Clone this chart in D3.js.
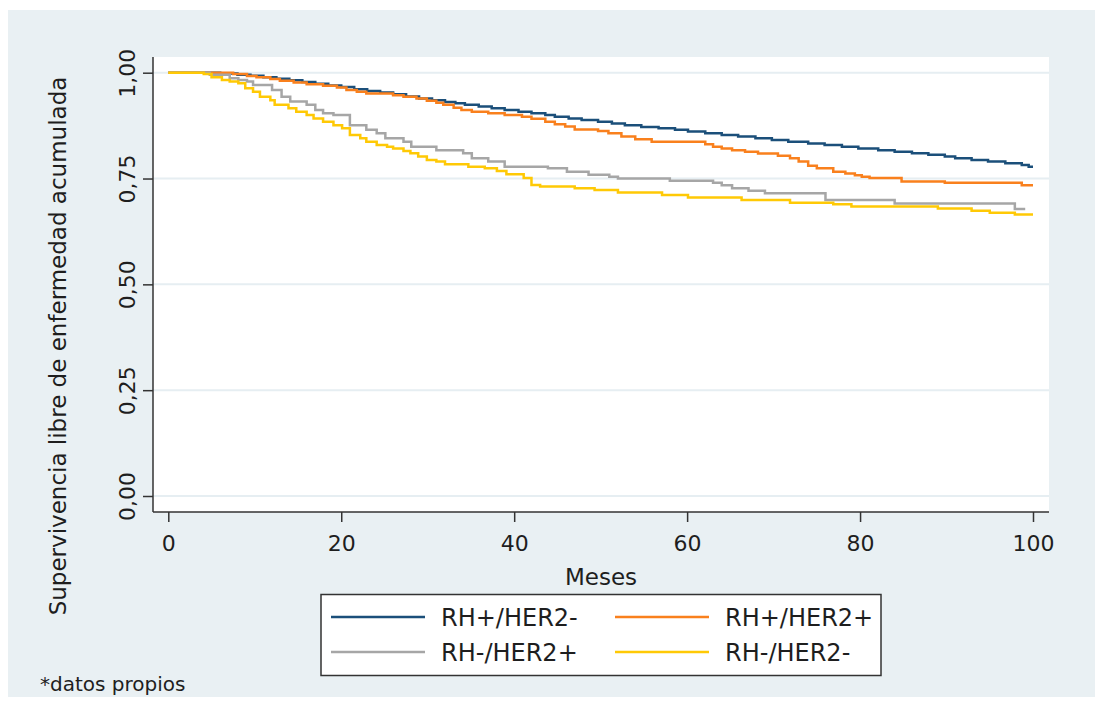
<!DOCTYPE html>
<html>
<head>
<meta charset="utf-8">
<script src="https://cdn.jsdelivr.net/npm/d3@7"></script>
<style>
  body { margin: 0; background: #fff; }
  svg { display: block; }
</style>
</head>
<body>
<div id="chart"></div>
<script>
// Kaplan-Meier curves, values
const xTicks = [0, 20, 40, 60, 80, 100];
const yTicks = [0, 0.25, 0.5, 0.75, 1];

const seriesNames = ["RH+/HER2-", "RH+/HER2+", "RH-/HER2+", "RH-/HER2-"];
const seriesColors = ["#1b4f7a", "#f9801d", "#a6a6a6", "#ffc905"];

const blueTimes = [0, 6.0, 8.0, 9.5, 11.0, 12.5, 14.0, 15.5, 17.0, 18.5, 20.0, 21.5, 23.0, 24.5, 26.0, 27.5, 29.0, 30.5, 32.0, 33.2, 34.3, 35.9, 37.4, 38.9, 40.5, 42.0, 43.6, 44.7, 46.3, 47.8, 49.7, 51.3, 52.8, 54.7, 56.7, 58.6, 60.1, 62.1, 64.0, 65.9, 67.9, 69.8, 71.7, 74.0, 75.9, 77.9, 79.8, 82.1, 84.0, 86.0, 87.9, 89.8, 91.0, 92.9, 94.8, 96.8, 98.7, 99.5, 100];
const blueSurv = [1, 0.998, 0.995, 0.993, 0.989, 0.986, 0.982, 0.978, 0.974, 0.970, 0.966, 0.961, 0.957, 0.953, 0.949, 0.944, 0.939, 0.935, 0.931, 0.928, 0.924, 0.920, 0.916, 0.912, 0.908, 0.904, 0.900, 0.896, 0.892, 0.888, 0.884, 0.880, 0.876, 0.872, 0.869, 0.865, 0.861, 0.857, 0.853, 0.849, 0.845, 0.841, 0.837, 0.833, 0.829, 0.825, 0.821, 0.817, 0.813, 0.810, 0.806, 0.802, 0.798, 0.794, 0.790, 0.786, 0.782, 0.778, 0.778];

const orangeTimes = [0, 7.5, 9.1, 10.2, 11.8, 12.9, 14.5, 16.0, 17.9, 19.5, 20.6, 21.8, 22.9, 26.0, 27.2, 28.7, 29.9, 31.0, 31.8, 33.0, 33.9, 35.1, 37.0, 38.9, 40.9, 42.0, 43.6, 44.7, 45.9, 47.0, 49.7, 50.9, 52.4, 54.0, 55.9, 62.1, 63.0, 64.0, 65.2, 66.7, 68.2, 70.5, 71.9, 72.9, 74.0, 75.0, 76.9, 78.3, 79.4, 80.2, 81.1, 84.8, 89.8, 98.7, 100];
const orangeSurv = [1, 0.997, 0.992, 0.989, 0.985, 0.981, 0.977, 0.973, 0.969, 0.965, 0.959, 0.955, 0.951, 0.947, 0.943, 0.939, 0.934, 0.929, 0.924, 0.917, 0.912, 0.908, 0.904, 0.900, 0.896, 0.891, 0.884, 0.878, 0.873, 0.866, 0.862, 0.857, 0.849, 0.843, 0.837, 0.831, 0.825, 0.821, 0.817, 0.813, 0.809, 0.804, 0.798, 0.790, 0.780, 0.774, 0.766, 0.762, 0.758, 0.754, 0.751, 0.743, 0.740, 0.734, 0.734];

const grayTimes = [0, 4.8, 7.1, 8.1, 9.1, 9.8, 12.0, 13.1, 14.1, 16.0, 17.0, 17.9, 19.1, 21.0, 22.9, 24.1, 25.1, 27.2, 28.1, 31.0, 34.1, 35.1, 37.0, 38.9, 43.9, 46.1, 48.6, 51.0, 52.0, 58.0, 63.0, 64.0, 65.2, 67.1, 69.0, 76.0, 84.0, 97.9, 99.1];
const graySurv = [1, 0.995, 0.987, 0.983, 0.979, 0.971, 0.959, 0.943, 0.932, 0.924, 0.912, 0.904, 0.900, 0.876, 0.865, 0.857, 0.845, 0.837, 0.825, 0.817, 0.810, 0.798, 0.790, 0.778, 0.774, 0.766, 0.759, 0.754, 0.750, 0.745, 0.740, 0.734, 0.727, 0.721, 0.715, 0.699, 0.691, 0.678, 0.678];

const yellowTimes = [0, 4.1, 5.0, 6.2, 7.1, 8.1, 8.9, 9.8, 10.6, 11.8, 12.3, 13.9, 14.8, 16.0, 16.8, 17.9, 19.1, 20.1, 21.0, 22.2, 22.9, 24.1, 25.3, 26.0, 27.2, 28.0, 28.9, 29.9, 31.0, 32.0, 34.7, 36.6, 38.0, 39.1, 41.1, 42.0, 43.0, 47.0, 49.3, 52.0, 57.1, 60.1, 66.3, 71.9, 76.9, 79.0, 89.0, 92.9, 95.0, 97.9, 100];
const yellowSurv = [1, 0.997, 0.989, 0.983, 0.979, 0.975, 0.963, 0.955, 0.943, 0.935, 0.924, 0.916, 0.908, 0.900, 0.892, 0.884, 0.876, 0.869, 0.853, 0.845, 0.837, 0.829, 0.825, 0.821, 0.815, 0.810, 0.802, 0.794, 0.790, 0.784, 0.778, 0.774, 0.768, 0.760, 0.751, 0.735, 0.731, 0.727, 0.723, 0.717, 0.711, 0.705, 0.699, 0.693, 0.689, 0.684, 0.679, 0.674, 0.669, 0.665, 0.665];

const width = 1103, height = 707;
const plot = { left: 153, top: 57, right: 1049, bottom: 512 };
const font = "'DejaVu Sans', sans-serif";
const textColor = "#1e1e1e";
const axisColor = "#333";

const series = [
  { name: seriesNames[0], color: seriesColors[0], times: blueTimes, surv: blueSurv },
  { name: seriesNames[1], color: seriesColors[1], times: orangeTimes, surv: orangeSurv },
  { name: seriesNames[2], color: seriesColors[2], times: grayTimes, surv: graySurv },
  { name: seriesNames[3], color: seriesColors[3], times: yellowTimes, surv: yellowSurv }
];

const svg = d3.select("#chart").append("svg")
  .attr("width", width)
  .attr("height", height)
  .style("font-family", font);

// graph region background
svg.append("rect")
  .attr("x", 8).attr("y", 10)
  .attr("width", 1087).attr("height", 687)
  .attr("fill", "#e9f0f3");

svg.append("rect")
  .attr("x", plot.left).attr("y", plot.top)
  .attr("width", plot.right - plot.left).attr("height", plot.bottom - plot.top)
  .attr("fill", "#fff");

const x = d3.scaleLinear().domain([0, 100]).range([168.3, 1033]);
const y = d3.scaleLinear().domain([0, 1]).range([496, 72.7]);

// gridlines
svg.append("g").selectAll("line")
  .data(yTicks)
  .join("line")
    .attr("x1", plot.left).attr("x2", plot.right)
    .attr("y1", d => y(d)).attr("y2", d => y(d))
    .attr("stroke", "#e6eef2")
    .attr("stroke-width", 2);

// curves (step after)
const line = d3.line()
  .x(d => x(d[0]))
  .y(d => y(d[1]))
  .curve(d3.curveStepAfter);

svg.append("g").selectAll("path")
  .data(series)
  .join("path")
    .attr("d", s => line(s.times.map((t, i) => [t, s.surv[i]])))
    .attr("fill", "none")
    .attr("stroke", s => s.color)
    .attr("stroke-width", 2.5);

// axis lines
svg.append("line")
  .attr("x1", plot.left).attr("x2", plot.left)
  .attr("y1", plot.top).attr("y2", plot.bottom)
  .attr("stroke", axisColor).attr("stroke-width", 1.5);
svg.append("line")
  .attr("x1", plot.left).attr("x2", plot.right)
  .attr("y1", plot.bottom).attr("y2", plot.bottom)
  .attr("stroke", axisColor).attr("stroke-width", 1.5);

// y axis
const yAxis = d3.axisLeft(y)
  .tickValues(yTicks)
  .tickSize(10)
  .tickFormat(d => d3.format(".2f")(d).replace(".", ","));

const yg = svg.append("g")
  .attr("transform", `translate(${plot.left},0)`)
  .call(yAxis);
yg.select(".domain").remove();
yg.selectAll(".tick line").attr("stroke", axisColor).attr("stroke-width", 1.5);
yg.selectAll(".tick text")
  .attr("x", null).attr("dy", null)
  .attr("text-anchor", "middle")
  .attr("transform", "translate(-18,0) rotate(-90)")
  .attr("fill", textColor)
  .style("font-family", font)
  .style("font-size", "22px");

// x axis
const xAxis = d3.axisBottom(x).tickValues(xTicks).tickSize(10);
const xg = svg.append("g")
  .attr("transform", `translate(0,${plot.bottom})`)
  .call(xAxis);
xg.select(".domain").remove();
xg.selectAll(".tick line").attr("stroke", axisColor).attr("stroke-width", 1.5);
xg.selectAll(".tick text")
  .attr("y", 23)
  .attr("fill", textColor)
  .style("font-family", font)
  .style("font-size", "22px");

// axis titles
svg.append("text")
  .attr("x", (plot.left + plot.right) / 2)
  .attr("y", 585)
  .attr("text-anchor", "middle")
  .attr("fill", textColor)
  .style("font-size", "23px")
  .text("Meses");

svg.append("text")
  .attr("transform", "translate(66,346) rotate(-90)")
  .attr("text-anchor", "middle")
  .attr("fill", textColor)
  .style("font-size", "23px")
  .text("Supervivencia libre de enfermedad acumulada");

// legend
svg.append("rect")
  .attr("x", 321).attr("y", 594.5)
  .attr("width", 560).attr("height", 81)
  .attr("fill", "#fff")
  .attr("stroke", axisColor)
  .attr("stroke-width", 1.5);

const colX = [331, 615];
const rowY = [617, 652];
const legendItems = svg.append("g").selectAll("g")
  .data(series)
  .join("g")
    .attr("transform", (d, i) => `translate(${colX[i % 2]},${rowY[Math.floor(i / 2)]})`);

legendItems.append("line")
  .attr("x1", 0).attr("x2", 94)
  .attr("stroke", d => d.color)
  .attr("stroke-width", 2.5);

legendItems.append("text")
  .attr("x", 110)
  .attr("y", 8.5)
  .attr("fill", textColor)
  .style("font-size", "24px")
  .text(d => d.name);

// note
svg.append("text")
  .attr("x", 40)
  .attr("y", 691)
  .attr("fill", textColor)
  .style("font-size", "20px")
  .text("*datos propios");
</script>
</body>
</html>
